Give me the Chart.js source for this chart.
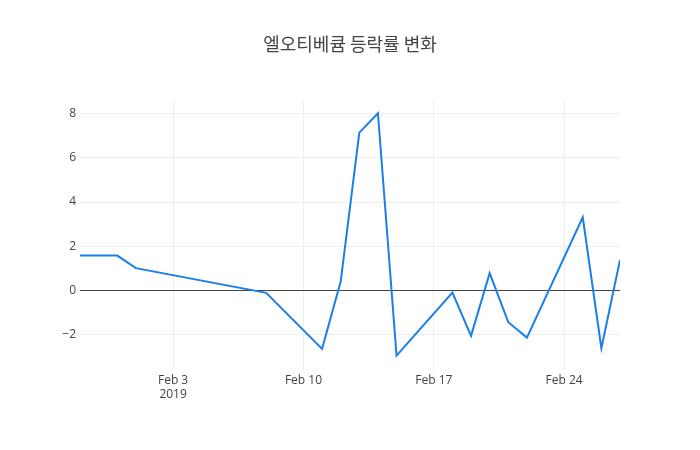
<!DOCTYPE html>
<html>
<head>
<meta charset="utf-8">
<script src="https://cdn.jsdelivr.net/npm/chart.js@4/dist/chart.umd.min.js"></script>
<style>
html,body{margin:0;padding:0;background:#fff;}
#wrap{width:700px;height:450px;}
</style>
</head>
<body>
<div id="wrap"><canvas id="c" width="700" height="450"></canvas></div>
<script>
const title = '엘오티베큠 등락률 변화';
const dates = ['2019-01-29','2019-01-31','2019-02-01','2019-02-08','2019-02-11','2019-02-12','2019-02-13','2019-02-14','2019-02-15','2019-02-18','2019-02-19','2019-02-20','2019-02-21','2019-02-22','2019-02-25','2019-02-26','2019-02-27'];
const changes = [1.57, 1.57, 1.0, -0.12, -2.66, 0.39, 7.15, 8.03, -2.97, -0.11, -2.07, 0.77, -1.45, -2.15, 3.31, -2.63, 1.37];
const xTickDates = ['2019-02-03','2019-02-10','2019-02-17','2019-02-24'];
const xTickLabels = [['Feb 3','2019'], 'Feb 10', 'Feb 17', 'Feb 24'];
const yTicks = [-2, 0, 2, 4, 6, 8];
const xStart = '2019-01-29', xEnd = '2019-02-27';

const DAY = 86400000;
const t0 = Date.parse(xStart + 'T00:00:00Z');
const toDay = s => (Date.parse(s + 'T00:00:00Z') - t0) / DAY;
const points = dates.map((d, i) => ({x: toDay(d), y: changes[i]}));
const xTickVals = xTickDates.map(toDay);

Chart.defaults.font.family = '"Open Sans", "Noto Sans", sans-serif';
Chart.defaults.color = '#444';

new Chart(document.getElementById('c'), {
  type: 'line',
  data: {
    datasets: [{
      data: points,
      borderColor: '#1a7fe8',
      borderWidth: 2,
      pointRadius: 0,
      pointHoverRadius: 0,
      tension: 0,
      fill: false
    }]
  },
  options: {
    responsive: false,
    animation: false,
    devicePixelRatio: 1,
    layout: {padding: 0},
    plugins: {
      legend: {display: false},
      tooltip: {enabled: false},
      title: {
        display: true,
        text: title,
        color: '#444',
        font: {size: 18, weight: 'normal', family: '"Noto Sans CJK KR", "Open Sans", sans-serif'},
        padding: {top: 33, bottom: 45.4}
      }
    },
    scales: {
      x: {
        type: 'linear',
        min: 0,
        max: toDay(xEnd),
        afterBuildTicks: s => { s.ticks = xTickVals.map(v => ({value: v})); },
        afterFit: s => { s.height = 80; },
        ticks: {
          autoSkip: false,
          maxRotation: 0,
          padding: 3,
          font: {size: 12},
          color: '#444',
          callback: (v) => { const i = xTickVals.indexOf(v); return i >= 0 ? xTickLabels[i] : ''; }
        },
        grid: {color: '#eee', drawTicks: false, lineWidth: 1},
        border: {display: false}
      },
      y: {
        type: 'linear',
        min: -3.62,
        max: 8.63,
        afterBuildTicks: s => { s.ticks = yTicks.map(v => ({value: v})); },
        afterFit: s => { s.width = 80; },
        ticks: {
          padding: 4,
          font: {size: 12},
          color: '#444',
          callback: v => (v < 0 ? '\u2212' + Math.abs(v) : String(v))
        },
        grid: {
          color: c => (c.tick && c.tick.value === 0 ? '#444' : '#eee'),
          lineWidth: 1,
          drawTicks: false,
          z: 0
        },
        border: {display: false}
      },
      yRight: {
        type: 'linear',
        position: 'right',
        min: -3.62,
        max: 8.63,
        afterFit: s => { s.width = 80; },
        ticks: {display: false},
        grid: {display: false, drawTicks: false},
        border: {display: false}
      }
    }
  }
});
</script>
</body>
</html>
